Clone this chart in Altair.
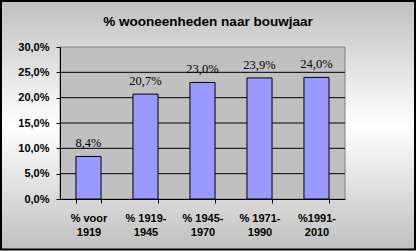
import altair as alt
import pandas as pd

categories = ["% voor\n1919", "% 1919-\n1945", "% 1945-\n1970", "% 1971-\n1990", "%1991-\n2010"]
shares = [0.084, 0.207, 0.230, 0.239, 0.240]
grid_values = [0.05, 0.10, 0.15, 0.20, 0.25]
y_ticks = [0.0, 0.05, 0.10, 0.15, 0.20, 0.25, 0.30]
title_text = "% wooneenheden naar bouwjaar"

df = pd.DataFrame({"cat": categories, "share": shares})
grid_df = pd.DataFrame({"share": grid_values})

W, H = 285, 152
PL, PT, PR, PB = 60, 47, 71, 52

y_scale = alt.Scale(domain=[0, 0.30], nice=False, zero=True)
x_scale = alt.Scale(domain=categories, paddingInner=0.56, paddingOuter=0.28)

y_axis = alt.Axis(values=y_ticks, grid=False, zindex=1, domainColor="#000000",
                  tickColor="#000000", tickSize=4,
                  labelExpr="replace(format(datum.value, '.1%'), '.', ',')",
                  labelFont="Liberation Sans", labelFontSize=11, labelFontWeight="bold",
                  labelColor="#000000", labelPadding=7)
x_axis = alt.Axis(labelAngle=0, grid=False, zindex=1, domainColor="#000000",
                  tickColor="#000000", tickSize=4, tickBand="extent",
                  labelExpr="split(datum.label, '\\n')",
                  labelFont="Liberation Sans", labelFontSize=11, labelFontWeight="bold",
                  labelColor="#000000", labelLineHeight=14, labelPadding=9)

bg = alt.Chart(alt.Data(values=[{}])).mark_rect(
    fill=alt.Gradient(
        gradient="linear",
        stops=[
            alt.GradientStop(color="#C0C0C0", offset=0),
            alt.GradientStop(color="#FFFFFF", offset=0.5),
            alt.GradientStop(color="#C0C0C0", offset=1),
        ],
        x1=0, x2=0, y1=0, y2=1,
    ),
    stroke="#000000",
    strokeWidth=2,
).encode(
    x=alt.value(-PL + 1), x2=alt.value(W + PR - 1),
    y=alt.value(-PT + 1), y2=alt.value(H + PB - 1.5),
)

plot_bg = alt.Chart(alt.Data(values=[{}])).mark_rect(
    fill="#C0C0C0", stroke="#808080", strokeWidth=1
).encode(
    x=alt.value(0), x2=alt.value("width"), y=alt.value(0), y2=alt.value("height")
)

grid = alt.Chart(grid_df).mark_rule(color="#000000", strokeWidth=1).encode(
    y=alt.Y("share:Q", scale=y_scale, axis=y_axis, title=None),
    x=alt.value(0), x2=alt.value("width"),
)

bars = alt.Chart(df).mark_bar(
    fill="#9999FF", stroke="#000000", strokeWidth=1
).encode(
    x=alt.X("cat:N", sort=categories, scale=x_scale, title=None, axis=x_axis),
    y=alt.Y("share:Q", scale=y_scale, title=None, axis=y_axis),
)

labels = alt.Chart(df).transform_calculate(
    lbl="replace(format(datum.share, '.1%'), '.', ',')"
).mark_text(
    font="Liberation Serif", fontSize=12.5, color="#000000", baseline="alphabetic", dy=-9
).encode(
    x=alt.X("cat:N", sort=categories, scale=x_scale, title=None, axis=x_axis),
    y=alt.Y("share:Q", scale=y_scale, title=None, axis=y_axis),
    text="lbl:N",
)

chart = alt.layer(bg, plot_bg, grid, bars, labels).properties(
    width=W, height=H,
    autosize=alt.AutoSizeParams(type="none"),
    padding={"left": PL, "top": PT, "right": PR, "bottom": PB},
    title=alt.TitleParams(text=title_text, font="Liberation Sans", fontSize=13.5,
                          fontWeight="bold", color="#000000", anchor="middle",
                          baseline="alphabetic", frame="group", dx=5.5, offset=-39),
).configure_view(stroke=None)

chart.save("out.html", embed_options={"renderer": "svg", "actions": False})
